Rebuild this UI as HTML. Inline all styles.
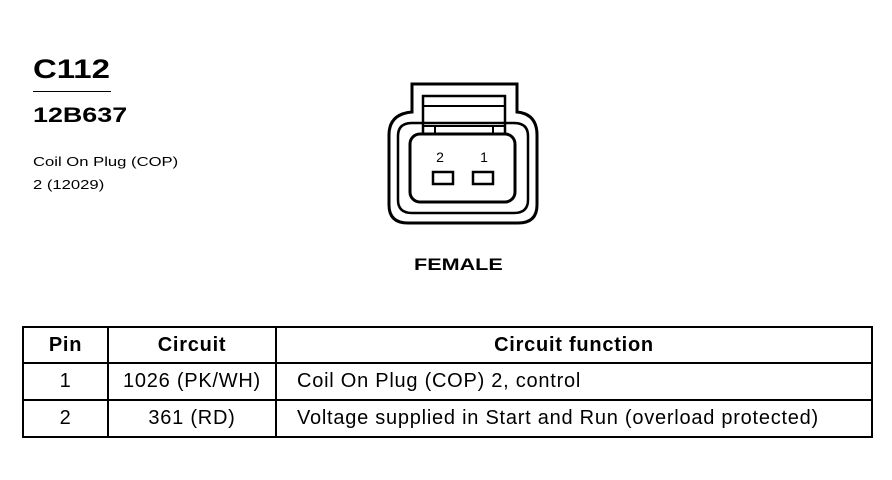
<!DOCTYPE html>
<html><head><style>
body{margin:0;width:892px;height:480px;background:#fff;font-family:"Liberation Sans",Arial,sans-serif;position:relative;overflow:hidden;color:#000}
.t{position:absolute;white-space:nowrap;transform-origin:left top}
table{position:absolute;left:22px;top:326px;border-collapse:collapse;width:851px}
td{border:2px solid #000;font-size:20px;letter-spacing:0.75px;text-align:center;padding:0;height:35px}
th{border:2px solid #000;font-size:20px;letter-spacing:0.75px;font-weight:bold;height:34px;padding:0}
</style></head><body>
<div class="t" style="left:33px;top:54px;font-size:27px;font-weight:bold;transform:scaleX(1.22)">C112</div>
<div style="position:absolute;left:33px;top:91px;width:78px;height:1px;background:#000"></div>
<div class="t" style="left:33px;top:104px;font-size:21px;font-weight:bold;transform:scaleX(1.28)">12B637</div>
<div class="t" style="left:33px;top:154px;font-size:13px;transform:scaleX(1.28)">Coil On Plug (COP)</div>
<div class="t" style="left:33px;top:177px;font-size:13px;transform:scaleX(1.28)">2 (12029)</div>
<svg style="position:absolute;left:0;top:0" width="892" height="480">
<g fill="none" stroke="#000" stroke-width="3">
<path d="M412 84 L517 84 L517 112 Q537 114 537 135 L537 205 Q537 223 518 223 L408 223 Q389 223 389 205 L389 135 Q389 114 412 112 Z"/>
<path d="M412 123 L514 123 Q528 123 528 136 L528 200 Q528 213 514 213 L412 213 Q398 213 398 200 L398 136 Q398 123 412 123 Z" stroke-width="2.5"/>
<rect x="410" y="134" width="105" height="68" rx="10"/>
<rect x="423" y="96" width="82" height="38" stroke-width="2.5"/>
<line x1="423" y1="106" x2="505" y2="106" stroke-width="2"/>
<line x1="423" y1="126" x2="505" y2="126" stroke-width="2"/>
<line x1="435" y1="126" x2="435" y2="134" stroke-width="2"/>
<line x1="493" y1="126" x2="493" y2="134" stroke-width="2"/>
<rect x="433" y="172" width="20" height="12" stroke-width="2.5"/>
<rect x="473" y="172" width="20" height="12" stroke-width="2.5"/>
</g>
<text x="440" y="162" font-family="Liberation Sans" font-size="14" text-anchor="middle">2</text>
<text x="484" y="162" font-family="Liberation Sans" font-size="14" text-anchor="middle">1</text>
</svg>
<div class="t" style="left:414px;top:255px;font-size:17px;font-weight:bold;transform:scaleX(1.27)">FEMALE</div>
<table>
<tr><th style="width:83px">Pin</th><th style="width:166px">Circuit</th><th>Circuit function</th></tr>
<tr><td>1</td><td>1026 (PK/WH)</td><td style="text-align:left;padding-left:20px">Coil On Plug (COP) 2, control</td></tr>
<tr><td>2</td><td>361 (RD)</td><td style="text-align:left;padding-left:20px">Voltage supplied in Start and Run (overload protected)</td></tr>
</table>
</body></html>
